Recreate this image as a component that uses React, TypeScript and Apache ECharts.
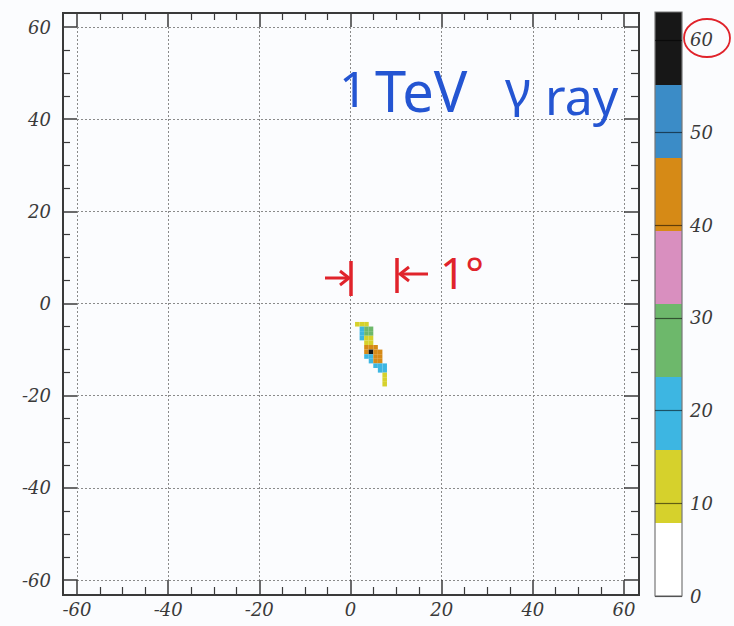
import React, { useEffect, useRef } from "react";
import * as echarts from "echarts";

// Heat-map cells (1 x 1 bins): left edge, bottom edge, counts
const cellX = [1, 2, 3, 2, 3, 4, 2, 3, 4, 2, 3, 4, 3, 4, 3, 4, 5, 3, 4, 5, 6, 3, 4, 5, 6, 4, 5, 6, 5, 6, 7, 6, 7, 7, 7, 7];
const cellY = [-5, -5, -5, -6, -6, -6, -7, -7, -7, -8, -8, -8, -9, -9, -10, -10, -10, -11, -11, -11, -11, -12, -12, -12, -12, -13, -13, -13, -14, -14, -14, -15, -15, -16, -17, -18];
const cellValue = [11, 14, 10, 20, 26, 25, 22, 27, 24, 19, 12, 13, 12, 14, 41, 44, 40, 45, 62, 43, 41, 20, 22, 44, 42, 18, 41, 43, 21, 20, 22, 19, 18, 12, 11, 10];

// Colour scale bands
const bandEdges = [0, 7.875, 15.75, 23.625, 31.5, 39.375, 47.25, 55.125, 63];
const bandColors = ["#ffffff", "#d6d12c", "#3db6e2", "#6db86b", "#d98fbf", "#d68a16", "#3b8cc7", "#171717"];

export default function App() {
  const ref = useRef<HTMLDivElement>(null);
  useEffect(() => {
    const chart = echarts.init(ref.current!, null, { renderer: "svg" });
    const labelFont = {
      fontFamily: "DejaVu Serif",
      fontStyle: "italic" as const,
      fontSize: 18,
      color: "#3a3a3a",
    };
    const tickColor = "#3a3a3a";
    const mainAxis = (position: string, showLabel: boolean, showSplit: boolean, margin: number) => ({
      type: "value",
      gridIndex: 0,
      position,
      min: -60,
      max: 60,
      interval: 20,
      offset: 14,
      axisLine: { show: false, onZero: false },
      axisTick: { show: true, inside: true, length: 14, lineStyle: { color: tickColor, width: 1.5 } },
      minorTick: { show: true, splitNumber: 4, length: 7, lineStyle: { color: tickColor, width: 1.2 } },
      splitLine: { show: showSplit, lineStyle: { color: "#8a8a8a", type: [2, 2], width: 1 } },
      axisLabel: { show: showLabel, margin, ...labelFont },
    });

    const bars = bandColors.map((c, i) => ({
      type: "bar",
      xAxisIndex: 2,
      yAxisIndex: 2,
      stack: "cb",
      barWidth: "100%",
      silent: true,
      data: [bandEdges[i + 1] - bandEdges[i]],
      itemStyle: { color: c },
    }));

    const red = "#e0232b";
    const blue = "#2455d2";
    const blueText = (text: string, x: number, y: number, size = 50) => ({
      type: "text",
      x,
      y,
      z: 20,
      style: { text, fontFamily: "Noto Sans", fontSize: size, fill: blue, verticalAlign: "middle" },
    });

    chart.setOption({
      animation: false,
      grid: [
        { left: 77, top: 27, width: 547, height: 553 },
        { left: 655, top: 12, width: 27, height: 584 },
      ],
      xAxis: [
        mainAxis("bottom", true, true, 6),
        mainAxis("top", false, false, 6),
        { type: "category", gridIndex: 1, data: [""], show: false },
      ],
      yAxis: [
        mainAxis("left", true, true, 12),
        mainAxis("right", false, false, 12),
        {
          type: "value",
          gridIndex: 1,
          position: "right",
          min: 0,
          max: 63,
          interval: 10,
          z: 10,
          axisLine: { show: false, onZero: false },
          axisTick: { show: true, inside: true, length: 27, lineStyle: { color: "rgba(0,0,0,0.55)", width: 1.2 } },
          splitLine: { show: false },
          axisLabel: { margin: 8, showMaxLabel: false, ...labelFont },
        },
      ],
      visualMap: {
        type: "piecewise",
        show: false,
        seriesIndex: 0,
        dimension: 2,
        pieces: bandColors.map((c, i) => ({ gte: bandEdges[i], lt: bandEdges[i + 1], color: c })),
      },
      series: [
        {
          type: "custom",
          xAxisIndex: 0,
          yAxisIndex: 0,
          encode: { x: 0, y: 1 },
          data: cellX.map((x, i) => [x, cellY[i], cellValue[i]]),
          renderItem: (params: any, api: any) => {
            const x0 = api.value(0);
            const y0 = api.value(1);
            const p1 = api.coord([x0, y0 + 1]);
            const p2 = api.coord([x0 + 1, y0]);
            return {
              type: "rect",
              shape: { x: p1[0], y: p1[1], width: p2[0] - p1[0], height: p2[1] - p1[1] },
              style: { fill: api.visual("color") },
            };
          },
        },
        ...bars,
      ],
      graphic: [
        { type: "rect", z: 10, shape: { x: 63, y: 13, width: 576, height: 582 }, style: { fill: "none", stroke: "#3a3a3a", lineWidth: 2 } },
        { type: "rect", z: 10, shape: { x: 655, y: 12, width: 27, height: 584 }, style: { fill: "none", stroke: "#777", lineWidth: 1.2 } },
        blueText("1", 339, 88),
        blueText("TeV", 375, 90, 56),
        blueText("γ", 505, 88),
        blueText("ray", 545, 96),
        { type: "line", z: 20, shape: { x1: 325, y1: 278, x2: 349, y2: 278 }, style: { stroke: red, lineWidth: 3 } },
        { type: "polyline", z: 20, shape: { points: [[340, 271], [349, 278], [340, 285]] }, style: { stroke: red, lineWidth: 3, fill: "none" } },
        { type: "line", z: 20, shape: { x1: 351, y1: 261, x2: 351, y2: 296 }, style: { stroke: red, lineWidth: 3.5 } },
        { type: "line", z: 20, shape: { x1: 397, y1: 258, x2: 397, y2: 293 }, style: { stroke: red, lineWidth: 3.5 } },
        { type: "line", z: 20, shape: { x1: 400, y1: 274, x2: 428, y2: 274 }, style: { stroke: red, lineWidth: 3 } },
        { type: "polyline", z: 20, shape: { points: [[409, 267], [400, 274], [409, 281]] }, style: { stroke: red, lineWidth: 3, fill: "none" } },
        { type: "text", z: 20, x: 440, y: 272, style: { text: "1°", fontFamily: "Noto Sans", fontSize: 44, fill: red, verticalAlign: "middle" } },
        { type: "ellipse", z: 20, shape: { cx: 707, cy: 38, rx: 23, ry: 19 }, style: { fill: "none", stroke: red, lineWidth: 1.8 } },
      ],
    });
    return () => chart.dispose();
  }, []);
  return (
    <div
      ref={ref}
      style={{ position: "fixed", left: 0, top: 0, width: 734, height: 626, background: "#fbfcfe" }}
    />
  );
}
